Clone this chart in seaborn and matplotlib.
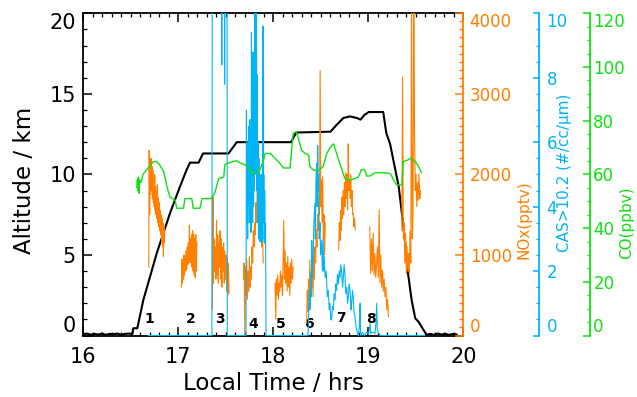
import numpy as np
import pandas as pd
import matplotlib
matplotlib.use("Agg")
import matplotlib.pyplot as plt
import seaborn as sns
from matplotlib.ticker import MultipleLocator

# ---------------- data ----------------
alt_time = [16.00, 16.04, 16.08, 16.12, 16.16, 16.20, 16.24, 16.28, 16.32, 16.36,
            16.40, 16.44, 16.48, 16.52, 16.529, 16.571, 16.582, 16.634, 16.775, 16.915,
            17.02, 17.09, 17.125, 17.215, 17.262, 17.53, 17.616, 18.187, 18.242, 18.601,
            18.666, 18.737, 18.808, 18.879, 18.917, 18.960, 19.004, 19.156, 19.189, 19.228,
            19.276, 19.319, 19.352, 19.385, 19.417, 19.455, 19.493, 19.526, 19.580, 19.613,
            19.65, 19.69, 19.73, 19.77, 19.81, 19.85, 19.89, 19.93]
alt_km = [0.08, 0.12, 0.05, 0.10, 0.06, 0.12, 0.04, 0.10, 0.08, 0.12,
          0.05, 0.10, 0.12, 0.10, 0.45, 0.45, 0.76, 2.2, 5.1, 7.6,
          9.25, 10.3, 10.73, 10.73, 11.3, 11.3, 12.0, 12.0, 12.6, 12.65,
          13.07, 13.5, 13.6, 13.5, 13.4, 13.7, 13.87, 13.87, 12.55, 11.9,
          10.5, 9.25, 7.6, 5.9, 3.85, 2.2, 1.07, 0.86, 0.34, 0.05,
          0.10, 0.04, 0.12, 0.06, 0.10, 0.04, 0.10, 0.06]

co_time = [16.566, 16.572, 16.577, 16.583, 16.588, 16.594, 16.599, 16.609, 16.631, 16.653,
           16.686, 16.740, 16.773, 16.805, 16.849, 16.882, 16.914, 16.969, 16.985, 17.056,
           17.072, 17.143, 17.159, 17.230, 17.252, 17.349, 17.388, 17.426, 17.480, 17.491,
           17.524, 17.578, 17.616, 17.654, 17.703, 17.741, 17.774, 17.828, 17.861, 17.894,
           17.915, 17.970, 18.002, 18.035, 18.068, 18.106, 18.177, 18.209, 18.242, 18.280,
           18.296, 18.335, 18.373, 18.384, 18.416, 18.459, 18.492, 18.525, 18.563, 18.601,
           18.634, 18.666, 18.699, 18.753, 18.808, 18.862, 18.895, 18.928, 18.960, 18.982,
           19.015, 19.069, 19.178, 19.232, 19.265, 19.297, 19.352, 19.368, 19.417, 19.439,
           19.493, 19.526, 19.559]
co_ppbv = [55, 58, 54, 59, 53, 58, 57, 57, 60, 61,
           62.5, 64.8, 64.8, 63.6, 61, 55.5, 51.6, 50.4, 47.4, 47.4,
           51, 51, 47.4, 47.4, 51, 51, 53.4, 58.4, 59, 63.6,
           64.2, 64.8, 65.1, 64.2, 63.6, 62.4, 60.6, 60.6, 61.8, 64.8,
           67.8, 67.8, 66.6, 65.4, 64.2, 62.4, 62.4, 75.3, 75.9, 71.4,
           69, 67.8, 67.2, 63, 61.8, 61.2, 61.8, 63, 67.8, 70.2,
           71.4, 67.8, 64.2, 58.5, 57.9, 58.5, 59.1, 61.8, 61.8, 59.4,
           59.4, 60.6, 60.6, 60.3, 57.9, 56.1, 56.1, 64.8, 65.4, 66,
           64.8, 63, 60.6]

cas_time_a = [16.687, 17.355, 17.360, 17.455, 17.459, 17.463, 17.484, 17.489, 17.494, 17.513, 17.517]
cas_value_a = [0, 0, 15, 15, 8.4, 15, 15, 7.8, 15, 15, 0]

cas_time_b = [17.714, 17.718, 17.723, 17.727, 17.731, 17.736, 17.740, 17.745, 17.749, 17.753,
              17.758, 17.762, 17.766, 17.771, 17.775, 17.779, 17.784, 17.788, 17.793, 17.797,
              17.801, 17.806, 17.810, 17.814, 17.819, 17.823, 17.827, 17.832, 17.836, 17.841,
              17.845, 17.849, 17.854, 17.858, 17.862, 17.867, 17.871, 17.875, 17.880, 17.884,
              17.888, 17.893, 17.897, 17.901, 17.906, 17.910, 17.915, 17.919, 17.924]
cas_value_b = [0, 7.0, 3.5, 5.5, 3.0, 6.0, 4.0, 6.5, 3.5, 6.7,
               4.0, 5.5, 3.2, 9.4, 4.5, 6.0, 3.5, 8.8, 4.0, 7.0,
               4.5, 12, 5.0, 12, 6.0, 12, 4.5, 8.1, 3.5, 6.0,
               3.0, 5.5, 3.0, 5.0, 2.9, 4.5, 3.0, 5.0, 2.9, 4.0,
               3.0, 9.6, 3.5, 5.0, 2.9, 4.5, 2.85, 3.5, 0]

cas_time_c = [18.362, 18.369, 18.375, 18.380, 18.386, 18.394, 18.400, 18.405, 18.411, 18.421,
              18.427, 18.438, 18.443, 18.449, 18.457, 18.462, 18.467, 18.473, 18.478, 18.483,
              18.492, 18.497, 18.509, 18.516, 18.525, 18.530, 18.535, 18.546, 18.557, 18.568,
              18.579, 18.588, 18.597, 18.604, 18.612, 18.623, 18.632, 18.639, 18.650, 18.658,
              18.666, 18.675, 18.685, 18.694, 18.702, 18.710, 18.721, 18.729, 18.737, 18.745,
              18.753, 18.762, 18.773, 18.781, 18.790, 18.797, 18.808, 18.817, 18.825, 18.833,
              18.841, 18.850, 18.860, 18.869, 18.878, 18.887, 18.895, 18.906, 18.913, 18.918,
              18.923, 18.938, 18.949, 18.960, 18.982, 19.004, 19.018, 19.025, 19.036, 19.053,
              19.069, 19.080, 19.088, 19.093, 19.105, 19.124, 19.596]
cas_value_c = [0, 0.17, 1.0, 1.4, 0.8, 1.9, 1.2, 2.95, 1.8, 2.5,
               3.5, 4.1, 3.0, 4.8, 5.35, 4.0, 5.9, 4.5, 5.0, 3.0,
               3.5, 2.5, 2.95, 2.0, 3.0, 2.0, 2.45, 1.8, 2.0, 1.2,
               1.4, 0.8, 1.0, 0.5, 0.48, 0.9, 0.8, 1.3, 1.1, 1.6,
               1.4, 1.9, 1.6, 2.0, 1.8, 2.2, 1.93, 1.5, 1.8, 2.2,
               1.93, 1.3, 1.5, 1.0, 1.2, 1.6, 1.4, 0.8, 1.0, 1.4,
               1.2, 0.7, 0.58, 0.3, 0.17, 0.05, 0.0, 0.3, 1.0, 0.1,
               0.0, 0.1, 0.05, 0.0, 0.1, 0.05, 0.37, 0.05, 0.1, 0.1,
               0.05, 0.4, 1.0, 0.2, 0.1, 0.0, 0.0]

nox_seg_start = [16.691, 17.034, 17.360, 17.687, 18.019, 18.351, 18.688, 19.015, 19.352]
nox_seg_end = [16.860, 17.197, 17.535, 17.894, 18.209, 18.547, 18.862, 19.211, 19.548]
nox_seg1 = [850, 2300, 1500, 2150, 1750, 2200, 1800, 2100, 1700, 2050, 1650, 1950, 1600, 2000,
            1550, 1850, 1500, 1800, 1450, 1880, 1400, 1700, 1350, 1650, 1300, 1550, 1250, 1500,
            1150, 1450, 1100, 1400, 980, 1350, 1150, 1300]
nox_seg2 = [600, 950, 650, 900, 700, 1000, 750, 980, 800, 1050, 820, 1100, 880, 1150, 900,
            1370, 950, 1200, 900, 1250, 850, 1300, 800, 1260, 750, 1200, 720, 1250, 800, 1150]
nox_seg3 = [320, 1720, 650, 1200, 800, 1100, 700, 1430, 750, 1250, 650, 1150, 850, 1300, 700,
            1200, 600, 1100, 800, 1150, 650, 1050, 700, 1000, 550, 950, 500, 900, 520]
nox_seg4 = [700, 900, 0, 850, 500, 950, 450, 800, 550, 980, 600, 850, 700, 1100, 900, 1300,
            1100, 1400, 1250, 1650, 1400, 1800, 1600, 2000, 1500, 1900, 1300, 1800, 1100, 1300, 900]
nox_seg5 = [650, 200, 700, 500, 750, 450, 650, 550, 800, 600, 750, 500, 900, 1430, 700, 1050,
            650, 900, 550, 980, 600, 850, 500, 900, 650, 950, 700, 850]
nox_seg6 = [150, 560, 300, 700, 360, 940, 500, 800, 600, 900, 480, 980, 700, 1100, 900, 1310,
            1100, 1500, 1300, 1720, 1500, 3290, 1600, 1930, 1400, 1970, 1200, 1500, 1000, 1400]
nox_seg7 = [1060, 1400, 1180, 1550, 1300, 1720, 1450, 1800, 1500, 1900, 1600, 2020, 1700, 2000,
            1560, 2380, 1800, 1940, 1700, 2000, 1600, 1800, 1500, 1510, 1350, 1450, 1310]
nox_seg8 = [1350, 770, 1200, 800, 1270, 750, 1020, 720, 900, 1100, 720, 1560, 650, 1000, 600,
            810, 550, 700, 480, 600, 320, 450, 230]
nox_seg9 = [1300, 3210, 1200, 1400, 900, 1260, 770, 1100, 800, 1020, 780, 1300, 900, 4400, 1200,
            1500, 4400, 2510, 1800, 2000, 1600, 1900, 1680, 2010, 1700, 1800]

leg_labels = ["1", "2", "3", "4", "5", "6", "7", "8"]
leg_time = [16.697, 17.132, 17.437, 17.785, 18.079, 18.373, 18.710, 19.025]
leg_alt = [1.05, 1.05, 1.05, 0.7, 0.7, 0.7, 1.1, 1.05]

x_ticks = [16, 17, 18, 19, 20]
alt_ticks = [0, 5, 10, 15, 20]
nox_ticks = [0, 1000, 2000, 3000, 4000]
cas_ticks = [0, 2, 4, 6, 8, 10]
co_ticks = [0, 20, 40, 60, 80, 100, 120]

# ---------------- tables ----------------
nox_segs = [nox_seg1, nox_seg2, nox_seg3, nox_seg4, nox_seg5, nox_seg6, nox_seg7, nox_seg8, nox_seg9]
frames = []
for i, (t0, t1, vals) in enumerate(zip(nox_seg_start, nox_seg_end, nox_segs)):
    frames.append(pd.DataFrame({"time": np.linspace(t0, t1, len(vals)),
                                "nox": vals, "segment": i}))
nox_df = pd.DataFrame(pd.concat(frames, ignore_index=True))
cas_df = pd.DataFrame({"time": cas_time_a + cas_time_b + cas_time_c,
                       "cas": cas_value_a + cas_value_b + cas_value_c})

# ---------------- style ----------------
sns.set_theme(style="white")
plt.rcParams["font.family"] = ["DejaVu Sans"]

ORANGE = "#ff7f00"
BLUE = "#00b4f5"
GREEN = "#10e010"

fig = plt.figure(figsize=(6.37, 3.97), dpi=100)
fig.patch.set_facecolor("white")
ax = fig.add_axes([0.1303, 0.1549, 0.5973, 0.8116])
ax.set_facecolor("white")
ax_nox = ax.twinx()
ax_cas = ax.twinx()
ax_co = ax.twinx()

sns.lineplot(x=alt_time, y=alt_km, ax=ax, color="black", linewidth=1.5,
             estimator=None, sort=False)
sns.lineplot(data=nox_df, x="time", y="nox", units="segment", estimator=None,
             ax=ax_nox, color=ORANGE, linewidth=0.8, sort=False)
sns.lineplot(data=cas_df, x="time", y="cas", ax=ax_cas, color=BLUE, linewidth=0.8,
             estimator=None, sort=False)
sns.lineplot(x=co_time, y=co_ppbv, ax=ax_co, color=GREEN, linewidth=1.0,
             estimator=None, sort=False)

ax.set_xlim(16, 20)
ax.set_ylim(0, 20)
ax_nox.set_ylim(0, 4000)
ax_cas.set_ylim(0, 10)
ax_co.set_ylim(0, 120)

# main axes ticks
ax.set_xticks(x_ticks)
ax.set_xticklabels([str(v) for v in x_ticks])
ax.xaxis.set_minor_locator(MultipleLocator(0.1))
ax.set_yticks(alt_ticks)
ax.set_yticklabels([str(v) for v in alt_ticks])
ax.yaxis.set_minor_locator(MultipleLocator(1))
ax.tick_params(axis="x", which="both", direction="in", top=True, bottom=True,
               colors="black", labelsize=15, pad=8)
ax.tick_params(axis="x", which="major", length=6.5, width=1.1)
ax.tick_params(axis="x", which="minor", length=3.2, width=0.9)
ax.tick_params(axis="y", which="both", direction="in", left=True, right=False,
               colors="black", labelsize=15, pad=5)
ax.tick_params(axis="y", which="major", length=6.5, width=1.1)
ax.tick_params(axis="y", which="minor", length=3.2, width=0.9)
for s in ["left", "top", "bottom"]:
    ax.spines[s].set_color("black")
    ax.spines[s].set_linewidth(1.3)
ax.spines["right"].set_visible(False)

twin_specs = [
    (ax_nox, ORANGE, 1.0, nox_ticks, 100, 4.5, 5.5, 3.0, "NOx(pptv)", 1.158, 0.358),
    (ax_cas, BLUE, 1.198, cas_ticks, 0.5, 5.5, 4.5, 2.2, "CAS>10.2 (#/cc/μm)", 1.266, 0.504),
    (ax_co, GREEN, 1.332, co_ticks, 5, 2.5, 4.8, 2.2, "CO(ppbv)", 1.430, 0.349),
]
for tw, col, pos, ticks, minor, pad, lmaj, lmin, label, lx, ly in twin_specs:
    for s in ["left", "top", "bottom"]:
        tw.spines[s].set_visible(False)
    tw.spines["right"].set_position(("axes", pos))
    tw.spines["right"].set_color(col)
    tw.spines["right"].set_linewidth(1.3)
    tw.set_yticks(ticks)
    tw.set_yticklabels([str(v) for v in ticks])
    tw.yaxis.set_minor_locator(MultipleLocator(minor))
    tw.tick_params(axis="y", which="both", direction="in", right=True, left=False,
                   colors=col, labelsize=12, pad=pad)
    tw.tick_params(axis="y", which="major", length=lmaj, width=1.1)
    tw.tick_params(axis="y", which="minor", length=lmin, width=0.9)
    tw.set_xlabel("")
    tw.set_ylabel(label, color=col, fontsize=11)
    tw.yaxis.set_label_coords(lx, ly)
    tw.yaxis.label.set_verticalalignment("center")
    mt = tw.yaxis.get_major_ticks()
    mt[0].label2.set_verticalalignment("bottom")
    mt[-1].label2.set_verticalalignment("top")

mt = ax.yaxis.get_major_ticks()
mt[0].label1.set_verticalalignment("bottom")
mt[-1].label1.set_verticalalignment("top")

ax.set_xlabel("Local Time / hrs", fontsize=16.5, color="black")
ax.xaxis.set_label_coords(0.5, -0.15)
ax.xaxis.label.set_verticalalignment("center")
ax.set_ylabel("Altitude / km", fontsize=16.5, color="black")
ax.yaxis.set_label_coords(-0.155, 0.48)
ax.yaxis.label.set_verticalalignment("center")

for lab, t, a in zip(leg_labels, leg_time, leg_alt):
    ax.text(t, a, lab, fontsize=10, fontweight="bold", ha="center", va="center",
            color="black")

fig.savefig("out.png", dpi=100, facecolor="white")
